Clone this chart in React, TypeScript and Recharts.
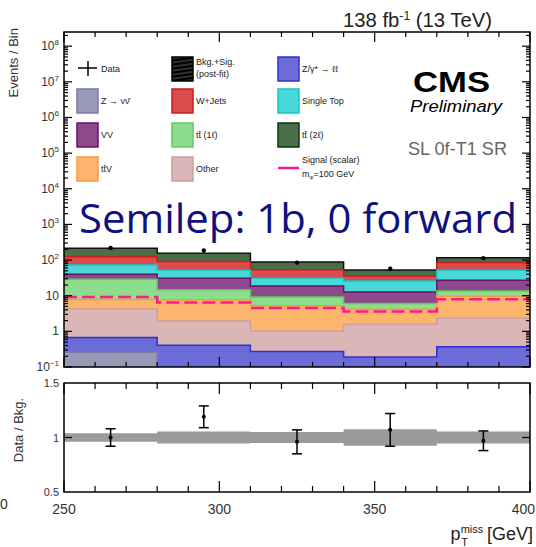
import React from 'react'
import { ComposedChart, Area, Line, Scatter, ErrorBar, XAxis, YAxis } from 'recharts'

// bins in pT miss [GeV]
const binEdges = [250, 280, 310, 340, 370, 400]
const binCenters = [265, 295, 325, 355, 385]

// background yields per bin (events / bin), stacked bottom -> top
const zNuNu = [0.26, 0.05, 0.06, 0.04, 0.07]
const zll = [0.41, 0.36, 0.21, 0.15, 0.3]
const other = [3.6, 1.55, 0.76, 1.39, 1.96]
const ttV = [3.5, 5.8, 4.2, 2.6, 7.4]
const tt1l = [21, 7.0, 4.0, 1.9, 3.9]
const diboson = [11, 16, 9.6, 6.7, 13.4]
const singleTop = [33, 21, 12, 13, 25]
const wJets = [52, 39, 23, 10, 33]
const tt2l = [91, 65, 35, 17, 32]

const signal = [9.2, 6.4, 4.5, 3.6, 8.0]
const dataCounts = [217, 186, 85, 57, 113]
const dataErr = [15, 14, 9, 8, 11]

const ratio = [1.0, 1.19, 0.96, 1.07, 0.97]
const ratioErr = [0.08, 0.1, 0.11, 0.15, 0.09]
const bandErr = [0.04, 0.055, 0.05, 0.075, 0.055]

const xTicks = [250, 260, 270, 280, 290, 300, 310, 320, 330, 340, 350, 360, 370, 380, 390, 400]
const ratioTicks = [0.5, 1, 1.5]

const layers = [
  { key: 'zvv', vals: zNuNu, fill: '#9898b8', stroke: '#7b7ba0' },
  { key: 'zll', vals: zll, fill: '#6c6cd8', stroke: '#3030d0' },
  { key: 'other', vals: other, fill: '#dbb6b6', stroke: '#c9a0a0' },
  { key: 'ttv', vals: ttV, fill: '#fdb56e', stroke: '#f59a3c' },
  { key: 'tt1l', vals: tt1l, fill: '#8edc8e', stroke: '#5fc95f' },
  { key: 'vv', vals: diboson, fill: '#8c4a8c', stroke: '#6a106a' },
  { key: 'st', vals: singleTop, fill: '#48d8d8', stroke: '#10c8c8' },
  { key: 'wj', vals: wJets, fill: '#dc4c4c', stroke: '#cc1c1c' },
  { key: 'tt2l', vals: tt2l, fill: '#4a6e48', stroke: '#111' },
]

// plot geometry
const W = 536
const PL = 64
const PR = 530
const PW = PR - PL
const MT = 32
const MB = 367
const MH = MB - MT
const RTOP = 370
const RT = 383
const RB = 492
const RH = RB - RT
const Y_MIN = 0.1
const Y_MAX = 2.5e8

const mainYTicks: number[] = []
for (let e = -1; e <= 8; e++) {
  for (let k = 1; k <= 9; k++) {
    const v = k * Math.pow(10, e)
    if (v <= Y_MAX) mainYTicks.push(v)
  }
}

const mainRows = binEdges.map((x, i) => {
  const b = Math.min(i, binCenters.length - 1)
  const row: Record<string, number> = { x }
  let sum = 0
  layers.forEach(l => {
    sum += l.vals[b]
    row[l.key] = sum
  })
  row.signal = signal[b]
  return row
})

const ratioRows = binEdges.map((x, i) => {
  const b = Math.min(i, binCenters.length - 1)
  return { x, band: [1 - bandErr[b], 1 + bandErr[b]] }
})

const dataPts = binCenters.map((x, i) => ({ x, y: dataCounts[i], err: dataErr[i] }))
const ratioPts = binCenters.map((x, i) => ({ x, y: ratio[i], err: ratioErr[i] }))

const FONT = '"Liberation Sans", Arial, sans-serif'

function MainYTick(props: any) {
  const { x, y, payload } = props
  const v = payload.value
  const e = Math.round(Math.log10(v))
  const major = Math.abs(v / Math.pow(10, e) - 1) < 1e-6
  const len = major ? 8 : 4
  let label: React.ReactNode = null
  if (major) {
    if (e === 0) label = '1'
    else if (e === 1) label = '10'
    else label = <>10<tspan dy={-5} fontSize={8}>{e < 0 ? '\u2212' + -e : e}</tspan></>
  }
  return (
    <g>
      <line x1={x} y1={y} x2={x + len} y2={y} stroke="#000" strokeWidth={1.2} />
      <line x1={x + PW - len} y1={y} x2={x + PW} y2={y} stroke="#000" strokeWidth={1.2} />
      {major && (
        <text x={x - 5} y={y + 4} textAnchor="end" fontSize={12} fill="#333" fontFamily={FONT}>
          {label}
        </text>
      )}
    </g>
  )
}

function MainXTick(props: any) {
  const { x, y, payload } = props
  const len = payload.value % 50 === 0 ? 10 : 5
  return (
    <g>
      <line x1={x} y1={y} x2={x} y2={y - len} stroke="#000" strokeWidth={1.2} />
      <line x1={x} y1={y - MH} x2={x} y2={y - MH + len} stroke="#000" strokeWidth={1.2} />
    </g>
  )
}

function RatioXTick(props: any) {
  const { x, y, payload } = props
  const major = payload.value % 50 === 0
  const len = major ? 11 : 6
  // last label would run past the page edge: keep it inside
  const last = payload.value === 400
  return (
    <g>
      <line x1={x} y1={y} x2={x} y2={y - len} stroke="#000" strokeWidth={1.2} />
      <line x1={x} y1={y - RH} x2={x} y2={y - RH + len} stroke="#000" strokeWidth={1.2} />
      {major && (
        <text x={last ? W - 1 : x} y={y + 22} textAnchor={last ? 'end' : 'middle'} fontSize={14} fill="#333" fontFamily={FONT}>
          {payload.value}
        </text>
      )}
    </g>
  )
}

function RatioYTick(props: any) {
  const { x, y, payload } = props
  const v = payload.value
  return (
    <g>
      {v === 1 && <line x1={x} y1={y} x2={x + 8} y2={y} stroke="#000" strokeWidth={1.2} />}
      {v === 1 && <line x1={x + PW - 8} y1={y} x2={x + PW} y2={y} stroke="#000" strokeWidth={1.2} />}
      <text x={x - 5} y={y + 4} textAnchor="end" fontSize={11} fill="#333" fontFamily={FONT}>
        {v}
      </text>
    </g>
  )
}

const legendCols = [77, 172, 278]
const legendRows = [57, 89, 123, 157]

function LegendBox({ col, row, fill, stroke, label }: any) {
  const x = legendCols[col]
  const y = legendRows[row]
  return (
    <g>
      <rect x={x} y={y} width={21} height={24} fill={fill} stroke={stroke} strokeWidth={1.5} />
      <text x={x + 24} y={y + 15} fontSize={9} fill="#222" fontFamily={FONT}>{label}</text>
    </g>
  )
}

export default function App() {
  return (
    <div style={{ position: 'absolute', left: 0, top: 0, width: W, height: 547, overflow: 'hidden', background: '#fff' }}>
      <div style={{ position: 'absolute', left: 0, top: 0 }}>
        <ComposedChart width={W} height={380} data={mainRows} margin={{ top: MT, right: W - PR, bottom: 380 - MB - 1, left: PL - 1 }}>
          {[...layers].reverse().map(l => (
            <Area
              key={l.key}
              dataKey={l.key}
              type="stepAfter"
              baseValue={Y_MIN}
              fill={l.fill}
              fillOpacity={1}
              stroke={l.stroke}
              strokeWidth={1.5}
              dot={false}
              activeDot={false}
              isAnimationActive={false}
            />
          ))}
          <Line dataKey="signal" type="stepAfter" stroke="#ff1a8c" strokeWidth={2.5} strokeDasharray="13 5" dot={false} activeDot={false} isAnimationActive={false} />
          <Scatter data={dataPts} dataKey="y" fill="#000" isAnimationActive={false}
            shape={(p: any) => <circle cx={p.cx} cy={p.cy} r={2.2} fill="#000" />}>
            <ErrorBar dataKey="err" direction="y" width={0} stroke="#000" strokeWidth={1.2} />
          </Scatter>
          <XAxis dataKey="x" type="number" domain={[250, 400]} ticks={xTicks} interval={0} height={1}
            tickSize={0} tickMargin={0} axisLine={false} tickLine={false} tick={<MainXTick />} allowDataOverflow />
          <YAxis scale="log" type="number" domain={[Y_MIN, Y_MAX]} ticks={mainYTicks} interval={0} width={1}
            tickSize={0} tickMargin={0} axisLine={false} tickLine={false} tick={<MainYTick />} allowDataOverflow />
        </ComposedChart>
      </div>
      <div style={{ position: 'absolute', left: 0, top: RTOP }}>
        <ComposedChart width={W} height={177} data={ratioRows} margin={{ top: RT - RTOP, right: W - PR, bottom: 177 - (RB - RTOP) - 1, left: PL - 1 }}>
          <Area dataKey="band" type="stepAfter" fill="#9a9a9a" fillOpacity={1} stroke="none" dot={false} activeDot={false} isAnimationActive={false} />
          <Scatter data={ratioPts} dataKey="y" fill="#000" isAnimationActive={false}
            shape={(p: any) => <circle cx={p.cx} cy={p.cy} r={2} fill="#000" />}>
            <ErrorBar dataKey="err" direction="y" width={5} stroke="#000" strokeWidth={1.5} />
          </Scatter>
          <XAxis dataKey="x" type="number" domain={[250, 400]} ticks={xTicks} interval={0} height={1}
            tickSize={0} tickMargin={0} axisLine={false} tickLine={false} tick={<RatioXTick />} allowDataOverflow />
          <YAxis type="number" domain={[0.5, 1.5]} ticks={ratioTicks} interval={0} width={1}
            tickSize={0} tickMargin={0} axisLine={false} tickLine={false} tick={<RatioYTick />} allowDataOverflow />
        </ComposedChart>
      </div>
      <svg width={W} height={547} style={{ position: 'absolute', left: 0, top: 0, pointerEvents: 'none' }} fontFamily={FONT}>
        <defs>
          <pattern id="hatch" width="4" height="4" patternUnits="userSpaceOnUse" patternTransform="rotate(-8)">
            <rect width="4" height="4" fill="#000" />
            <line x1="0" y1="2" x2="4" y2="2" stroke="#777" strokeWidth="0.8" />
          </pattern>
        </defs>
        <rect x={PL} y={MT} width={PW} height={MH} fill="none" stroke="#000" strokeWidth={1.5} />
        <rect x={PL} y={RT} width={PW} height={RH} fill="none" stroke="#000" strokeWidth={1.5} />

        <text x={343} y={27} fontSize={20} fill="#222" textLength={149} lengthAdjust="spacingAndGlyphs">
          138 fb<tspan dy={-7} fontSize={12}>-1</tspan><tspan dy={7}> (13 TeV)</tspan>
        </text>
        <text x={0} y={0} transform="translate(18,28) rotate(-90)" textAnchor="end" fontSize={13} fill="#333">Events / Bin</text>
        <text x={0} y={0} transform="translate(23,430) rotate(-90)" textAnchor="middle" fontSize={13} fill="#333">Data / Bkg.</text>
        <text x={0} y={509} fontSize={14} fill="#333">0</text>
        <text x={533} y={540} textAnchor="end" fontSize={18} fill="#222">
          p<tspan dy={-7} fontSize={11}>miss</tspan><tspan dx={-22} dy={13} fontSize={11}>T</tspan><tspan dx={14} dy={-6}> [GeV]</tspan>
        </text>

        <text x={413} y={92} fontSize={30} fontWeight="bold" fill="#000" textLength={77} lengthAdjust="spacingAndGlyphs">CMS</text>
        <text x={410} y={112} fontSize={16} fontStyle="italic" fill="#000" textLength={92} lengthAdjust="spacingAndGlyphs">Preliminary</text>
        <text x={408} y={155} fontSize={18} fill="#666" textLength={99} lengthAdjust="spacingAndGlyphs">SL 0f-T1 SR</text>

        {/* legend */}
        <line x1={78} y1={68} x2={97} y2={68} stroke="#000" strokeWidth={1.5} />
        <line x1={88} y1={61} x2={88} y2={76} stroke="#000" strokeWidth={1.5} />
        <text x={101} y={72} fontSize={9} fill="#222">Data</text>
        <rect x={172} y={57} width={21} height={24} fill="url(#hatch)" stroke="#000" strokeWidth={1.5} />
        <text x={196} y={65} fontSize={9} fill="#222">Bkg.+Sig.</text>
        <text x={196} y={77} fontSize={9} fill="#222">(post-fit)</text>
        <LegendBox col={2} row={0} fill="#6c6cd8" stroke="#3030d0" label={'Z/\u03b3* \u2192 \u2113\u2113'} />
        <LegendBox col={0} row={1} fill="#9898b8" stroke="#7b7ba0" label={'Z \u2192 \u03bd\u03bd\u0304'} />
        <LegendBox col={1} row={1} fill="#dc4c4c" stroke="#cc1c1c" label="W+Jets" />
        <LegendBox col={2} row={1} fill="#48d8d8" stroke="#10c8c8" label="Single Top" />
        <LegendBox col={0} row={2} fill="#8c4a8c" stroke="#6a106a" label="VV" />
        <LegendBox col={1} row={2} fill="#8edc8e" stroke="#5fc95f" label={'tt\u0304 (1\u2113)'} />
        <LegendBox col={2} row={2} fill="#4a6e48" stroke="#113311" label={'tt\u0304 (2\u2113)'} />
        <LegendBox col={0} row={3} fill="#fdb56e" stroke="#f59a3c" label={'tt\u0304V'} />
        <LegendBox col={1} row={3} fill="#dbb6b6" stroke="#c9a0a0" label="Other" />
        <line x1={278} y1={168} x2={299} y2={168} stroke="#ff1a8c" strokeWidth={2.5} />
        <text x={302} y={163} fontSize={9} fill="#222">Signal (scalar)</text>
        <text x={302} y={177} fontSize={9} fill="#222">m<tspan dy={2} fontSize={6}>{'\u03c6'}</tspan><tspan dy={-2}>=100 GeV</tspan></text>

        <text x={79} y={233} fontSize={40} fill="#10107f" fontFamily={'"Open Sans", "Noto Sans", sans-serif'} textLength={438} lengthAdjust="spacingAndGlyphs">
          Semilep: 1b, 0 forward
        </text>
      </svg>
    </div>
  )
}
